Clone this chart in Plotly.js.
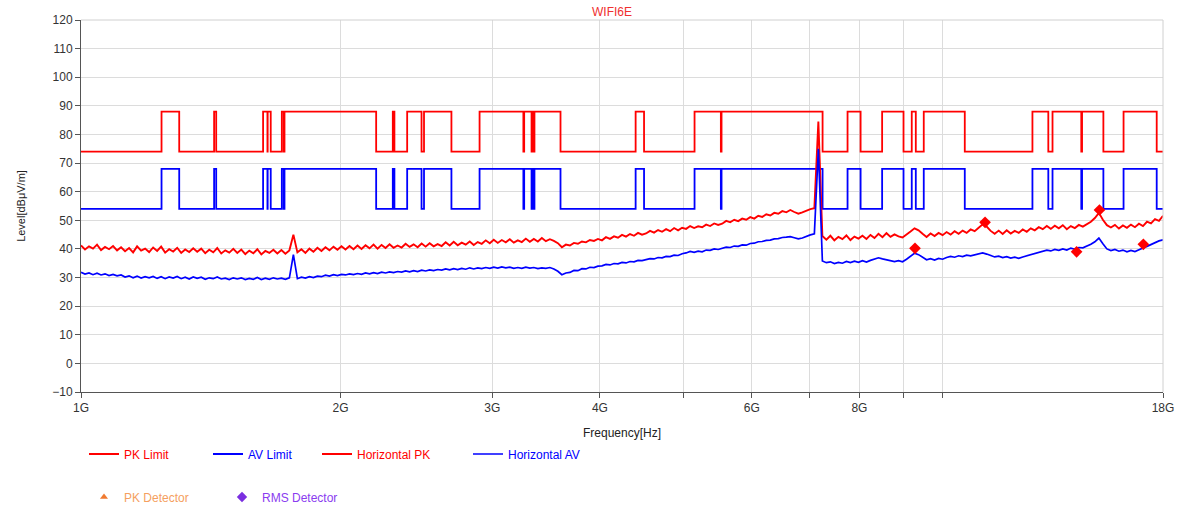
<!DOCTYPE html>
<html><head><meta charset="utf-8">
<script src="https://cdn.plot.ly/plotly-3.0.1.min.js"></script>
<style>html,body{margin:0;padding:0;background:#fff}#chart{width:1179px;height:508px}</style>
</head><body><div id="chart"></div>
<script>
// Sweep definition (GHz)
const sweepStartGHz = 1, sweepStopGHz = 18;

// Horizontal PK trace (dBuV/m)
const horizontalPK = [
41.2,39.8,40.9,40.1,41.5,39.6,40.7,39.9,41.0,39.5,
40.6,39.2,40.3,38.8,40.9,39.4,40.1,38.9,40.5,39.3,
40.8,38.7,39.9,39.1,40.4,38.6,39.8,38.9,40.2,39.0,
40.1,38.5,39.7,38.8,40.3,38.4,39.5,38.7,40.0,38.6,
39.8,38.2,39.4,38.5,39.9,38.1,39.3,38.6,39.7,38.4,
39.6,38.3,39.5,
45.0,
38.8,39.9,38.6,40.1,39.0,40.4,
39.3,40.6,39.5,40.8,39.7,40.9,39.8,41.0,39.9,41.2,
40.0,41.3,40.2,41.5,40.1,41.4,40.3,41.6,40.4,41.2,
40.5,41.8,40.7,41.6,40.6,41.9,40.8,42.0,40.9,41.7,
41.0,42.3,41.2,42.5,41.3,42.2,41.5,42.6,41.4,42.4,
41.8,43.0,42.0,43.2,42.1,43.1,42.3,43.4,42.2,43.0,
42.4,43.6,42.5,43.5,42.6,43.8,42.7,43.4,42.8,
42.0,
40.6,41.5,41.2,42.1,41.8,42.6,42.3,43.1,42.8,43.5,
43.0,44.1,43.5,44.4,43.9,44.9,44.3,45.2,44.6,45.6,45.0,
45.4,46.3,45.7,46.6,46.0,46.9,46.2,47.3,46.5,47.4,
47.0,48.0,47.3,47.9,47.6,48.5,48.0,48.9,48.4,
48.8,49.8,49.3,50.2,49.7,50.6,50.2,51.1,
50.6,51.6,51.2,52.1,51.7,52.6,52.3,53.2,52.8,
53.6,52.9,52.3,52.8,53.4,53.9,54.2,
84.5,
44.5,43.2,44.6,43.0,44.2,43.4,44.7,43.1,44.3,43.6,
44.6,43.5,44.9,43.8,45.3,44.1,45.5,44.2,45.1,44.4,
44.0,45.2,46.1,47.2,46.5,45.3,
44.2,45.4,44.5,45.6,44.8,
45.9,45.0,46.2,45.3,46.4,45.6,46.8,46.2,47.4,
48.6,47.8,46.3,
45.3,46.4,45.2,46.5,45.4,46.3,45.6,
46.8,46.0,47.2,46.5,47.6,46.9,48.0,
47.0,48.1,47.2,48.3,46.9,48.0,47.3,48.4,47.8,
48.6,49.5,50.8,
52.6,
50.2,48.3,
47.5,48.4,47.1,48.2,47.4,48.5,47.6,
48.8,48.0,49.5,48.9,50.4,49.8,51.6
];

// Horizontal AV trace (dBuV/m)
const horizontalAV = [
31.8,31.2,31.6,31.0,31.5,30.9,31.3,30.7,31.1,30.6,
30.9,30.2,30.6,29.9,30.5,29.8,30.3,29.9,30.4,29.7,
30.3,29.6,30.2,29.8,30.4,29.6,30.1,29.5,30.2,29.7,
30.1,29.4,29.9,29.6,30.2,29.5,29.8,29.3,29.9,29.5,
29.9,29.3,29.7,29.4,30.0,29.3,29.8,29.4,29.9,29.5,
29.8,29.4,29.9,
38.0,
29.6,30.1,29.8,30.3,30.0,30.5,
30.3,30.8,30.5,31.0,30.7,31.1,30.9,31.3,31.0,31.4,
31.1,31.6,31.3,31.7,31.4,31.9,31.6,32.0,31.7,32.1,
31.9,32.3,32.0,32.4,32.1,32.6,32.3,32.7,32.4,32.8,
32.6,33.0,32.7,33.1,32.8,33.2,32.9,33.4,33.0,33.4,
33.1,33.5,33.2,33.6,33.3,33.7,33.4,33.6,33.2,33.5,
33.2,33.6,33.3,33.5,33.1,33.4,33.2,33.5,33.0,
32.2,
31.0,31.6,31.8,32.5,32.4,33.1,33.0,33.6,33.5,34.0,
34.1,34.6,34.4,34.9,34.8,35.3,35.1,35.6,35.5,36.0,35.9,
36.2,36.6,36.5,37.0,36.9,37.4,37.3,37.8,37.7,38.3,
38.6,39.1,38.8,39.2,39.0,39.6,39.5,40.0,39.8,
40.1,40.6,40.5,41.0,40.9,41.4,41.3,41.9,
42.0,42.5,42.6,43.0,43.1,43.5,43.6,44.0,44.1,
44.3,43.9,43.5,43.8,44.4,44.9,45.3,
75.0,
35.8,35.2,35.5,34.9,35.3,35.0,35.6,35.2,35.7,35.3,
35.9,35.4,36.0,36.4,36.9,36.5,36.2,35.8,35.6,35.9,
35.5,36.4,37.4,38.5,38.0,37.1,
36.2,36.6,36.1,36.7,36.4,
37.0,37.4,37.1,37.6,37.3,37.8,37.6,38.0,38.3,
38.6,38.2,37.6,
37.2,37.5,37.0,37.3,36.8,37.1,36.7,
37.2,37.6,38.0,38.4,38.9,39.2,39.6,
39.3,39.8,39.5,40.0,39.6,40.3,39.9,40.5,40.4,
40.9,41.6,42.5,
43.8,
41.8,40.0,
39.4,39.8,39.2,39.6,39.0,39.5,39.1,
39.6,40.3,40.9,41.6,42.3,42.8,43.2
];

// Limit band edges (GHz) and levels starting at each edge
const limitEdgesGHz = [1,1.24,1.3,1.427,1.435,1.6265,1.6455,1.6465,1.66,1.71,1.7188,1.7222,
  2.2,2.3,2.31,2.39,2.4835,2.5,2.69,2.9,3.26,3.267,3.332,3.339,3.3458,3.358,3.6,4.4,4.5,
  5.15,5.525,5.535,7.25,7.75,8.025,8.5,9.0,9.2,9.3,9.5,10.6,12.7,13.25,13.4,14.47,14.5,
  15.35,16.2,17.7,18];
const pkLimit = [74,88,74,88,74,88,74,88,74,88,74,88,
  74,88,74,88,74,88,74,88,74,88,74,88,74,88,74,88,74,
  88,74,88,74,88,74,88,74,88,74,88,74,88,74,88,74,88,
  74,88,74,74];
const avLimit = [54,68,54,68,54,68,54,68,54,68,54,68,
  54,68,54,68,54,68,54,68,54,68,54,68,54,68,54,68,54,
  68,54,68,54,68,54,68,54,68,54,68,54,68,54,68,54,68,
  54,68,54,54];

// Final measurement markers
const markerFreqGHz = [9.28, 11.19, 14.29, 15.19, 17.08];
const markerLevel = [40.2, 49.3, 39.0, 53.6, 41.6];

// Axis ticks
const xTickValsGHz = [1,2,3,4,5,6,7,8,9,10,18];
const xTickText = ['1G','2G','3G','4G','','6G','','8G','','','18G'];
const yTickVals = [-10,0,10,20,30,40,50,60,70,80,90,100,110,120];

const sweepFreqGHz = horizontalPK.map((_, i) =>
  sweepStartGHz * Math.pow(sweepStopGHz / sweepStartGHz, i / (horizontalPK.length - 1)));

const RED = 'rgb(255,0,0)', BLUE = 'rgb(0,0,255)';
const W = 1179, H = 508;

const traces = [
  {x: limitEdgesGHz, y: pkLimit, name: 'PK Limit', mode: 'lines', line: {color: RED, width: 1.8, shape: 'hv'}, legend: 'legend'},
  {x: limitEdgesGHz, y: avLimit, name: 'AV Limit', mode: 'lines', line: {color: BLUE, width: 1.8, shape: 'hv'}, legend: 'legend2'},
  {x: sweepFreqGHz, y: horizontalPK, name: 'Horizontal PK', mode: 'lines', line: {color: RED, width: 1.9}, legend: 'legend3'},
  {x: sweepFreqGHz, y: horizontalAV, name: 'Horizontal AV', mode: 'lines', line: {color: BLUE, width: 1.7}, legend: 'legend4'},
  {x: markerFreqGHz, y: markerLevel, name: 'markers', mode: 'markers', marker: {symbol: 'diamond', size: 9, color: RED}, showlegend: false},
  {x: [null], y: [null], name: 'PK Detector', mode: 'markers', marker: {symbol: 'triangle-up', size: 7, color: '#f07a30'}, legend: 'legend5'},
  {x: [null], y: [null], name: 'RMS Detector', mode: 'markers', marker: {symbol: 'diamond', size: 8, color: '#7a2ee0'}, legend: 'legend6'}
];

function lg(px, py, color) {
  return {xref: 'container', yref: 'container', x: px / W, y: 1 - py / H, xanchor: 'left', yanchor: 'middle',
    orientation: 'h', bgcolor: 'rgba(0,0,0,0)', borderwidth: 0,
    font: {family: 'Liberation Sans, Arial, sans-serif', size: 12, color: color}};
}

const layout = {
  width: W, height: H,
  margin: {l: 81, r: 16, t: 20, b: 116},
  paper_bgcolor: '#fff', plot_bgcolor: '#fff',
  font: {family: 'Liberation Sans, Arial, sans-serif', size: 12, color: '#333'},
  title: {text: 'WIFI6E', font: {size: 12, color: '#f03030'}, xref: 'container', yref: 'container', x: 612 / W, y: 1 - 12 / H, xanchor: 'center', yanchor: 'middle'},
  xaxis: {
    type: 'log', range: [Math.log10(sweepStartGHz), Math.log10(sweepStopGHz)],
    tickvals: xTickValsGHz, ticktext: xTickText, ticks: 'outside', ticklen: 5, tickcolor: '#555',
    showline: true, linecolor: '#555', linewidth: 1, mirror: false,
    showgrid: true, gridcolor: '#dcdcdc', gridwidth: 1, zeroline: false,
    tickfont: {size: 12, color: '#333'},
    title: {text: 'Frequency[Hz]', font: {size: 12, color: '#222'}}
  },
  yaxis: {
    range: [-10, 120], tickvals: yTickVals, ticks: 'outside', ticklen: 5, tickcolor: '#555',
    showline: true, linecolor: '#555', linewidth: 1,
    showgrid: true, gridcolor: '#dcdcdc', gridwidth: 1, zeroline: false,
    tickfont: {size: 12, color: '#333'},
    title: {text: 'Level[dBμV/m]', font: {size: 11, color: '#222'}, standoff: 24}
  },
  shapes: [
    {type: 'line', xref: 'paper', yref: 'paper', x0: 1, x1: 1, y0: 0, y1: 1, line: {color: '#d0d0d0', width: 1}},
    {type: 'line', xref: 'paper', yref: 'paper', x0: 0, x1: 1, y0: 1, y1: 1, line: {color: '#d0d0d0', width: 1}}
  ],
  legend: lg(84, 454, RED),
  legend2: lg(208, 454, BLUE),
  legend3: lg(317, 454, RED),
  legend4: lg(468, 454, BLUE),
  legend5: lg(84, 497, '#f5a060'),
  legend6: lg(222, 497, '#8a3cf0'),
  showlegend: true
};

Plotly.newPlot('chart', traces, layout, {displayModeBar: false, staticPlot: true});
</script>
</body></html>
